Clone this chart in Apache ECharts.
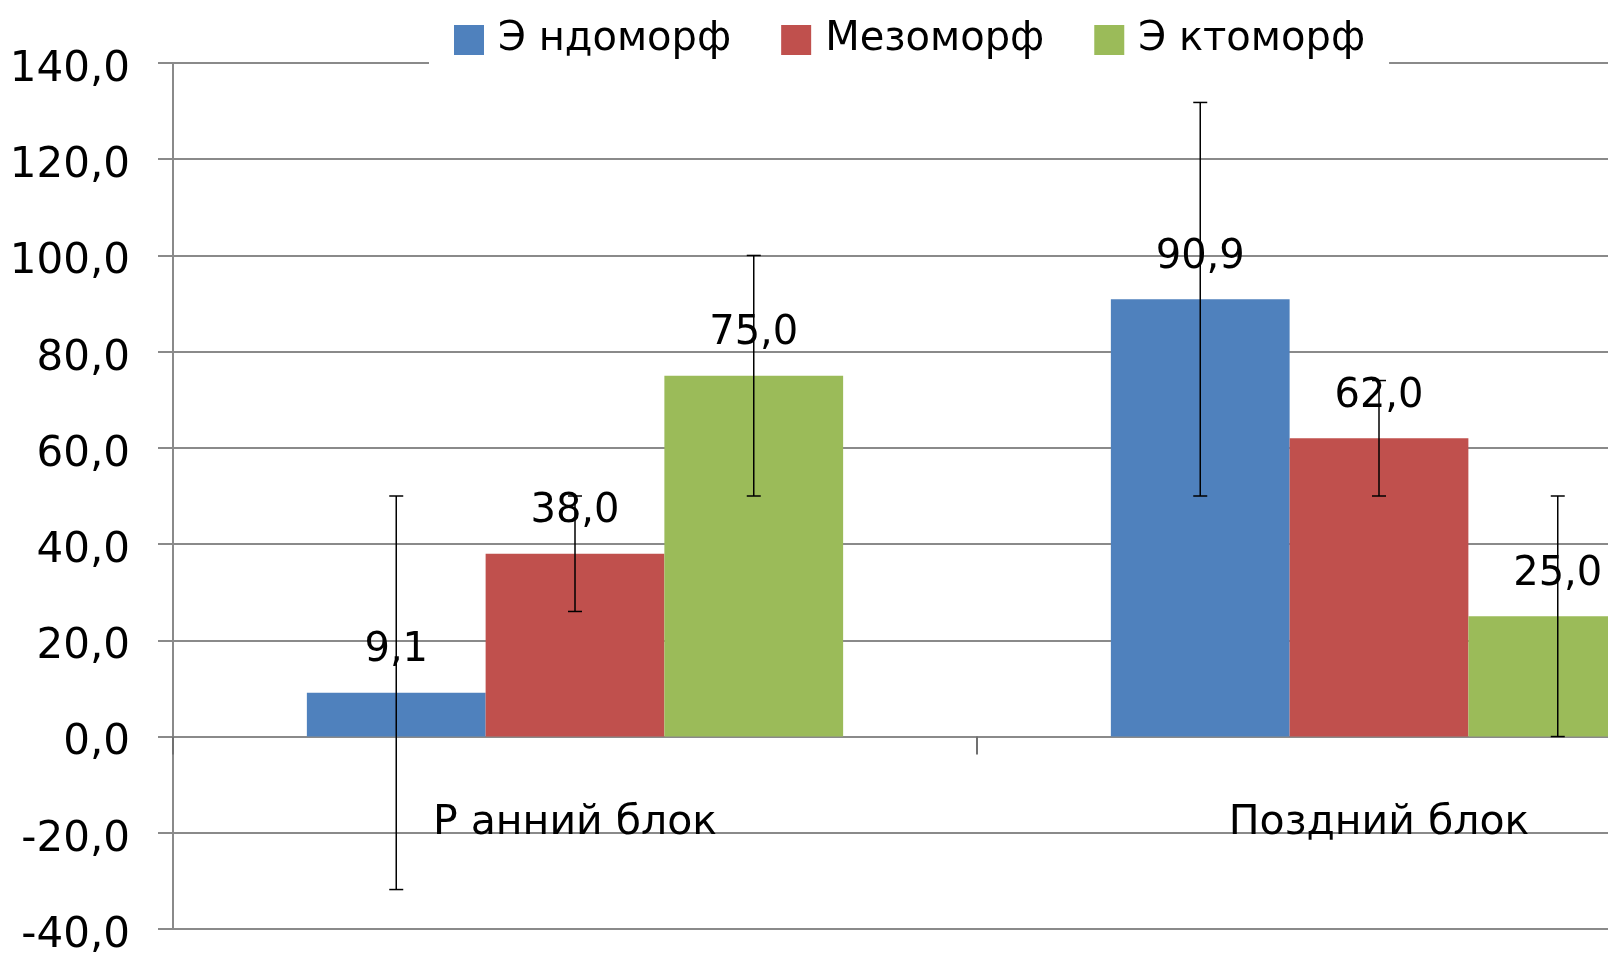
<!DOCTYPE html>
<html><head><meta charset="utf-8">
<script src="https://cdn.jsdelivr.net/npm/echarts@6/dist/echarts.min.js"></script>
<style>html,body{margin:0;padding:0;background:#fff}#c{width:1608px;height:958px}</style>
</head><body><div id="c"></div>
<script>
const categories = ['Р анний блок', 'Поздний блок'];
const seriesNames = ['Э ндоморф', 'Мезоморф', 'Э ктоморф'];
const endoValues = [9.1, 90.9];
const mesoValues = [38.0, 62.0];
const ectoValues = [75.0, 25.0];
const endoErrors = [40.9, 40.9];
const mesoErrors = [12.0, 12.0];
const ectoErrors = [25.0, 25.0];
const yTicks = [-40, -20, 0, 20, 40, 60, 80, 100, 120, 140];

const colors = ['#4F81BD', '#C0504D', '#9BBB59'];
const values = [endoValues, mesoValues, ectoValues];
const errors = [endoErrors, mesoErrors, ectoErrors];
const FONT = 'DejaVu Sans';
const GAP = 0.333;
const fmt = v => v.toFixed(1).replace('.', ',');

const chart = echarts.init(document.getElementById('c'));
const series = [];
values.forEach((vals, i) => {
  series.push({
    name: seriesNames[i], type: 'bar', data: vals,
    barGap: '0%', barCategoryGap: (GAP * 100) + '%',
    itemStyle: { color: colors[i] },
    label: { show: true, position: 'top', distance: 22, color: '#000',
      fontFamily: FONT, fontSize: 40, formatter: p => fmt(p.value) }
  });
});
values.forEach((vals, i) => {
  series.push({
    type: 'custom', z: 10, silent: true,
    data: vals.map((v, k) => [k, v - errors[i][k], v + errors[i][k]]),
    renderItem: (params, api) => {
      const cat = api.value(0);
      const lo = api.coord([cat, api.value(1)]);
      const hi = api.coord([cat, api.value(2)]);
      const bw = api.size([1, 0])[0] * (1 - GAP) / 3;
      const x = lo[0] + (i - 1) * bw;
      const c = 7;
      const st = { stroke: '#000', lineWidth: 1.5 };
      return { type: 'group', children: [
        { type: 'line', shape: { x1: x, y1: lo[1], x2: x, y2: hi[1] }, style: st },
        { type: 'line', shape: { x1: x - c, y1: lo[1], x2: x + c, y2: lo[1] }, style: st },
        { type: 'line', shape: { x1: x - c, y1: hi[1], x2: x + c, y2: hi[1] }, style: st }
      ]};
    }
  });
});

chart.setOption({
  animation: false,
  backgroundColor: '#fff',
  legend: {
    data: seriesNames, left: 429, top: 12, backgroundColor: '#fff',
    padding: [4, 24, 6, 25], itemWidth: 30, itemHeight: 30, itemGap: 50,
    icon: 'rect',
    textStyle: { fontFamily: FONT, fontSize: 40, color: '#000', lineHeight: 48, padding: [0, 0, 0, 9] }
  },
  grid: { left: 173, right: -173, top: 63, bottom: 29, containLabel: false, outerBoundsMode: 'none' },
  xAxis: {
    type: 'category', data: categories,
    axisLine: { onZero: true, lineStyle: { color: '#8a8a8a', width: 2 } },
    axisTick: { show: true, length: 18, lineStyle: { color: '#707070', width: 2 } },
    axisLabel: { show: true, margin: -126, hideOverlap: false, showMinLabel: true, showMaxLabel: true, interval: 0,
      color: '#000', fontFamily: FONT, fontSize: 41 }
  },
  yAxis: {
    type: 'value', min: yTicks[0], max: yTicks[yTicks.length - 1], interval: 20,
    axisLine: { show: true, lineStyle: { color: '#8a8a8a', width: 2 } },
    axisTick: { show: true, inside: false, length: 15, lineStyle: { color: '#8a8a8a', width: 2 } },
    splitLine: { show: true, lineStyle: { color: '#8a8a8a', width: 2 } },
    axisLabel: { margin: 43, formatter: v => '{a|' + fmt(v) + '}',
      rich: { a: { color: '#000', fontFamily: FONT, fontSize: 42, padding: [14, 0, 0, 0] } } }
  },
  series: series
});
</script></body></html>
